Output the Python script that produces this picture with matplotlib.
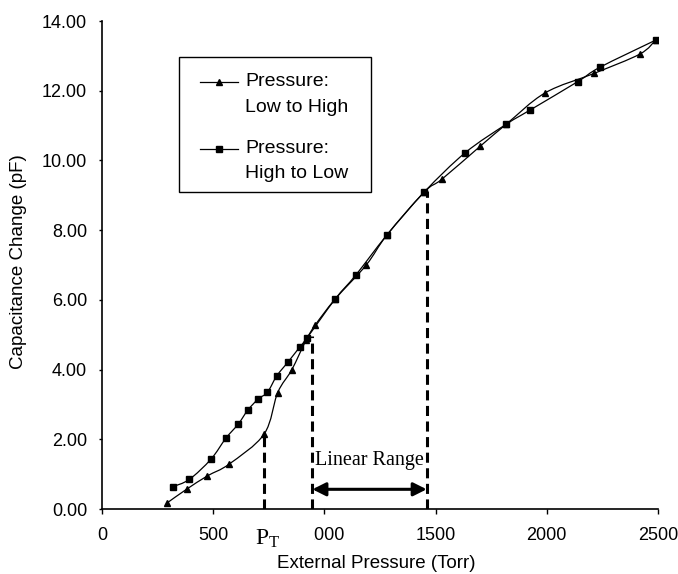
import numpy as np
import matplotlib.pyplot as plt
from matplotlib.path import Path
from matplotlib.patches import PathPatch, Rectangle
from matplotlib.lines import Line2D
import matplotlib.transforms as mtransforms

plt.rcParams['font.family'] = ['Liberation Sans', 'DejaVu Sans']
plt.rcParams['mathtext.fontset'] = 'custom'
plt.rcParams['mathtext.rm'] = 'Liberation Serif'

# Pressure increasing (triangles)
up_pressure = [294, 381, 474, 572, 729, 790, 853, 918, 959, 1048, 1188, 1281,
               1450, 1528, 1701, 1818, 1993, 2214, 2418, 2489]
up_cap = [0.18, 0.57, 0.95, 1.29, 2.15, 3.34, 3.99, 4.85, 5.28, 6.02, 7.00, 7.86,
          9.10, 9.46, 10.41, 11.04, 11.94, 12.50, 13.05, 13.45]

# Pressure decreasing (squares)
down_pressure = [318, 393, 490, 557, 613, 656, 703, 744, 786, 838, 891, 921,
                 1048, 1141, 1281, 1450, 1633, 1818, 1926, 2139, 2238, 2489]
down_cap = [0.64, 0.85, 1.43, 2.03, 2.44, 2.84, 3.16, 3.35, 3.82, 4.23, 4.66, 4.90,
            6.02, 6.71, 7.86, 9.10, 10.22, 11.04, 11.45, 12.26, 12.67, 13.45]

x_ticks = [0, 500, 1000, 1500, 2000, 2500]
y_ticks = [0, 2, 4, 6, 8, 10, 12, 14]

# transition pressure and the ends of the linear range
pt_pressure, pt_cap = 729, 2.15
lin_start, lin_start_cap = 946, 4.96
lin_end, lin_end_cap = 1460, 9.12
arrow_cap = 0.565


def smooth_path(x, y, t=1/6):
    # Catmull-Rom style bezier through the points (like Excel's smoothed line)
    pts = np.column_stack([x, y]).astype(float)
    n = len(pts)
    verts = [pts[0]]
    codes = [Path.MOVETO]
    for i in range(n - 1):
        p0 = pts[i - 1] if i > 0 else pts[i]
        p1 = pts[i]
        p2 = pts[i + 1]
        p3 = pts[i + 2] if i + 2 < n else pts[i + 1]
        verts += [p1 + (p2 - p0) * t, p2 - (p3 - p1) * t, p2]
        codes += [Path.CURVE4] * 3
    return Path(verts, codes)


fig = plt.figure(figsize=(6.78, 5.74), dpi=100)
ax = fig.add_axes([102/678, 1 - 509/574, 556/678, 488/574])

ax.add_patch(PathPatch(smooth_path(up_pressure, up_cap), facecolor='none',
                       edgecolor='black', lw=0.9))
ax.add_patch(PathPatch(smooth_path(down_pressure, down_cap), facecolor='none',
                       edgecolor='black', lw=0.9))
ax.plot(up_pressure, up_cap, ls='none', marker='^', ms=5, color='black')
ax.plot(down_pressure, down_cap, ls='none', marker='s', ms=4.2, color='black')

# dashed markers for P_T and the linear range
for xp, yp in [(pt_pressure, pt_cap), (lin_start, lin_start_cap), (lin_end, lin_end_cap)]:
    ax.plot([xp, xp], [0, yp], color='black', lw=2.2, ls=(0, (3.3, 1.8)),
            dash_capstyle='butt')

ax.annotate('', xy=(lin_end, arrow_cap), xytext=(lin_start, arrow_cap),
            arrowprops=dict(arrowstyle='<|-|>', color='black', lw=2.2,
                            mutation_scale=20, shrinkA=0, shrinkB=0))
ax.text((lin_start + lin_end) / 2, 1.26, 'Linear Range', ha='center', va='baseline',
        fontsize=14.5, family='Liberation Serif')

ax.set_xlim(0, 2500)
ax.set_ylim(0, 14)
ax.set_xticks(x_ticks)
ax.set_yticks(y_ticks)
ax.set_yticklabels([f'{v:.2f}' for v in y_ticks])
ax.tick_params(axis='x', direction='out', length=3.6, width=1, pad=9, labelsize=13)
ax.tick_params(axis='y', direction='out', length=2.2, width=1, pad=8.5, labelsize=13)
for side in ['top', 'right']:
    ax.spines[side].set_visible(False)
for side in ['left', 'bottom']:
    ax.spines[side].set_linewidth(1.2)

blend = mtransforms.blended_transform_factory(ax.transData, ax.transAxes)
# white box hides the leading digit of the 1000 label, under the P_T row
ax.add_patch(Rectangle((880, -0.08), 74, 0.06, transform=blend, facecolor='white',
                       edgecolor='none', clip_on=False, zorder=5))
ax.text(690, -0.074, r'$\mathrm{P_T}$', transform=blend, ha='left', va='baseline',
        fontsize=17, zorder=6)

ax.set_xlabel('External Pressure (Torr)', fontsize=13.5)
ax.set_ylabel('Capacitance Change (pF)', fontsize=13.5)
ax.xaxis.set_label_coords(0.494, -0.111)
ax.xaxis.label.set_va('center')
ax.yaxis.set_label_coords(-0.151, 0.506)
ax.yaxis.label.set_va('center')

# legend box drawn by hand so the handle sits on the first text line
ax.add_patch(Rectangle((0.1385, 0.6496), 0.3453, 0.2764, transform=ax.transAxes,
                       facecolor='white', edgecolor='black', lw=1.0, zorder=7))
legend_rows = [(0.8756, '^', 5, ['Pressure:', 'Low to High'], [0.8668, 0.8135]),
               (0.7377, 's', 4.2, ['Pressure:', 'High to Low'], [0.7295, 0.6783])]
for hy, mk, ms, texts, ys in legend_rows:
    ax.add_line(Line2D([0.176, 0.245], [hy, hy], transform=ax.transAxes, color='black',
                       lw=0.9, zorder=8))
    ax.add_line(Line2D([0.2105], [hy], transform=ax.transAxes, marker=mk, ms=ms,
                       color='black', ls='none', zorder=8))
    for txt, ty in zip(texts, ys):
        ax.text(0.257, ty, txt, transform=ax.transAxes, fontsize=14, va='baseline',
                ha='left', zorder=8)

fig.savefig('out.png', dpi=100)
